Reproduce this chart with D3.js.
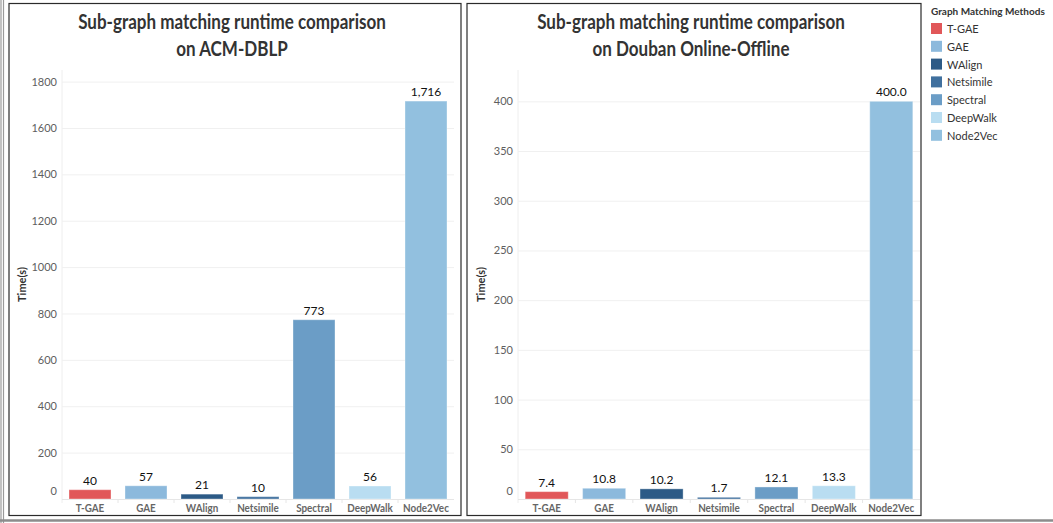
<!DOCTYPE html>
<html>
<head>
<meta charset="utf-8">
<script src="https://cdn.jsdelivr.net/npm/d3@7"></script>
<style>
  body { margin: 0; background: #fff; }
  svg { display: block; font-family: Lato, "Open Sans", sans-serif; }
</style>
</head>
<body>
<svg id="chart" width="1053" height="523"></svg>
<script>
// Data
const methods = ["T-GAE", "GAE", "WAlign", "Netsimile", "Spectral", "DeepWalk", "Node2Vec"];
const acmTimes = [40, 57, 21, 10, 773, 56, 1716];
const doubanTimes = [7.4, 10.8, 10.2, 1.7, 12.1, 13.3, 400.0];
const acmTicks = [0, 200, 400, 600, 800, 1000, 1200, 1400, 1600, 1800];
const doubanTicks = [0, 50, 100, 150, 200, 250, 300, 350, 400];
const methodColors = ["#e15759", "#8cb9dc", "#2c5a86", "#40709e", "#6b9dc6", "#b9ddf1", "#92c0df"];

const svg = d3.select("#chart");

const color = d3.scaleOrdinal().domain(methods).range(methodColors);

// Tableau's font is narrower than Lato, squeeze text horizontally
function squeeze(sel, k) {
  sel.each(function() {
    const w = this.getComputedTextLength();
    d3.select(this).attr("textLength", w * k).attr("lengthAdjust", "spacingAndGlyphs");
  });
}

// outer grey edges of the dashboard
svg.append("line").attr("x1", 1).attr("x2", 1).attr("y1", 0).attr("y2", 523)
  .attr("stroke", "#9a9a9a").attr("stroke-width", 1.2);
svg.append("line").attr("x1", 3.5).attr("x2", 3.5).attr("y1", 0).attr("y2", 523)
  .attr("stroke", "#9a9a9a").attr("stroke-width", 1.2);
svg.append("line").attr("x1", 0).attr("x2", 1053).attr("y1", 520.5).attr("y2", 520.5)
  .attr("stroke", "#8c8c8c").attr("stroke-width", 2.5);

function drawPanel(p) {
  const g = svg.append("g");

  // frame
  g.append("rect")
    .attr("x", p.frame[0]).attr("y", 3.5)
    .attr("width", p.frame[1] - p.frame[0]).attr("height", 512)
    .attr("fill", "none").attr("stroke", "#2b2b2b").attr("stroke-width", 1.2);

  // title, two lines
  const cx = (p.frame[0] + p.frame[1]) / 2 - 3;
  p.title.forEach((line, i) => {
    g.append("text")
      .attr("x", cx).attr("y", 29 + i * 27)
      .attr("text-anchor", "middle")
      .attr("font-size", 20.5).attr("font-weight", 700)
      .attr("fill", "#333")
      .text(line)
      .call(squeeze, 0.83);
  });

  const x = d3.scaleBand()
    .domain(methods)
    .range([p.left, p.right])
    .paddingInner(0.25).paddingOuter(0.125);

  const y = d3.scaleLinear()
    .domain([0, p.yMax])
    .range([499, 70]);

  // faint plot border (left)
  g.append("line").attr("x1", p.left).attr("x2", p.left).attr("y1", 70).attr("y2", 503)
    .attr("stroke", "#eeeeee");

  // gridlines
  g.append("g")
    .attr("transform", `translate(${p.left},0)`)
    .call(d3.axisLeft(y).tickValues(p.ticks).tickSize(-(p.right - p.left)).tickFormat(""))
    .call(a => a.select(".domain").remove())
    .call(a => a.selectAll("line").attr("stroke", "#f0f0f0"));

  // tick labels
  const yAxis = g.append("g")
    .attr("transform", `translate(${p.left - 5},0)`)
    .call(d3.axisLeft(y).tickValues(p.ticks).tickSize(0).tickPadding(0).tickFormat(d3.format("d")))
    .call(a => a.select(".domain").remove());
  yAxis.selectAll("text")
    .attr("font-family", "Lato, sans-serif")
    .attr("font-size", 11).attr("fill", "#5e5e5e");
  // Tableau nudges the bottom label up inside the pane
  yAxis.selectAll(".tick").filter(d => d === 0).select("text").attr("dy", "-0.4em");

  // axis title
  g.append("text")
    .attr("transform", `translate(${p.titleX},${(70 + 499) / 2}) rotate(-90)`)
    .attr("text-anchor", "middle")
    .attr("font-size", 11).attr("font-weight", 700).attr("fill", "#333")
    .text("Time(s)");

  // x baseline with separators between categories
  g.append("line").attr("x1", p.left).attr("x2", p.right).attr("y1", 499.5).attr("y2", 499.5)
    .attr("stroke", "#e6e6e6");
  g.append("g")
    .selectAll("line")
    .data(methods.slice(1))
    .join("line")
    .attr("x1", d => x(d) - x.step() * x.paddingInner() / 2)
    .attr("x2", d => x(d) - x.step() * x.paddingInner() / 2)
    .attr("y1", 499.5).attr("y2", 503)
    .attr("stroke", "#e6e6e6");

  // bars
  g.append("g")
    .selectAll("rect")
    .data(methods)
    .join("rect")
    .attr("x", d => x(d))
    .attr("y", (d, i) => y(p.values[i]))
    .attr("width", x.bandwidth())
    .attr("height", (d, i) => y(0) - y(p.values[i]))
    .attr("fill", d => color(d))
    .attr("stroke", "rgba(255,255,255,0.35)")
    .attr("stroke-width", 1);

  // value labels
  g.append("g")
    .selectAll("text")
    .data(methods)
    .join("text")
    .attr("x", d => x(d) + x.bandwidth() / 2)
    .attr("y", (d, i) => y(p.values[i]) - 5)
    .attr("text-anchor", "middle")
    .attr("font-size", 12).attr("fill", "#111")
    .text((d, i) => p.fmt(p.values[i]));

  // category labels
  g.append("g")
    .selectAll("text")
    .data(methods)
    .join("text")
    .attr("x", d => x(d) + x.bandwidth() / 2)
    .attr("y", 512)
    .attr("text-anchor", "middle")
    .attr("font-size", 10.5).attr("font-weight", 700).attr("fill", "#666")
    .text(d => d)
    .call(squeeze, 0.94);
}

drawPanel({
  frame: [9, 461],
  title: ["Sub-graph matching runtime comparison", "on ACM-DBLP"],
  left: 62, right: 454, titleX: 26,
  values: acmTimes, ticks: acmTicks, yMax: 1850,
  fmt: d3.format(",")
});

drawPanel({
  frame: [467, 921],
  title: ["Sub-graph matching runtime comparison", "on Douban Online-Offline"],
  left: 518, right: 920, titleX: 485,
  values: doubanTimes, ticks: doubanTicks, yMax: 431.5,
  fmt: d3.format(".1f")
});

// legend
const legend = svg.append("g").attr("transform", "translate(931,0)");
legend.append("text")
  .attr("x", 0).attr("y", 15)
  .attr("font-size", 10).attr("font-weight", 700).attr("fill", "#333")
  .text("Graph Matching Methods")
  .call(sel => {
    const w = sel.node().getComputedTextLength();
    if (w > 116) sel.attr("textLength", 116).attr("lengthAdjust", "spacingAndGlyphs");
  });
const item = legend.selectAll("g.item")
  .data(methods)
  .join("g")
  .attr("class", "item")
  .attr("transform", (d, i) => `translate(0,${23 + i * 17.8})`);
item.append("rect")
  .attr("width", 11).attr("height", 11)
  .attr("fill", d => color(d));
item.append("text")
  .attr("x", 16).attr("y", 10)
  .attr("font-size", 11).attr("fill", "#333")
  .text(d => d);
</script>
</body>
</html>
